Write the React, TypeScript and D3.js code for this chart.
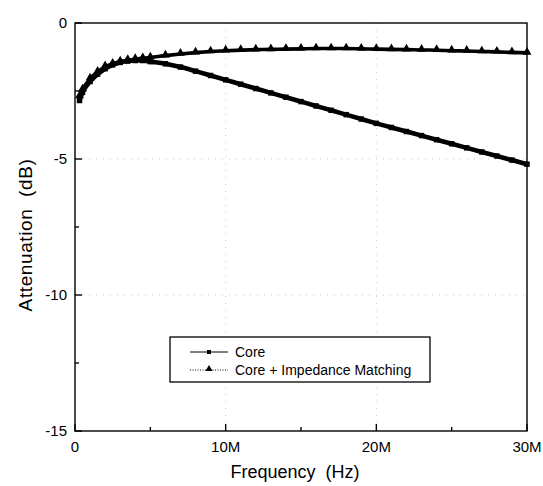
import React from "react";
import * as d3 from "d3";

const freqMHz = [0.3, 0.5, 1, 1.5, 2, 2.5, 3, 3.5, 4, 4.5, 5, 6, 7, 8, 9, 10, 11, 12, 13, 14, 15, 16, 17, 18, 19, 20, 21, 22, 23, 24, 25, 26, 27, 28, 29, 30];
const coreDb = [-2.85, -2.55, -2.15, -1.88, -1.68, -1.54, -1.45, -1.4, -1.38, -1.38, -1.42, -1.5, -1.62, -1.77, -1.93, -2.09, -2.25, -2.41, -2.57, -2.73, -2.89, -3.05, -3.21, -3.37, -3.53, -3.69, -3.84, -3.99, -4.14, -4.29, -4.44, -4.59, -4.74, -4.89, -5.04, -5.19];
const matchedDb = [-2.7, -2.45, -2.05, -1.8, -1.6, -1.5, -1.42, -1.37, -1.33, -1.3, -1.27, -1.2, -1.14, -1.09, -1.05, -1.02, -1.0, -0.98, -0.97, -0.96, -0.95, -0.94, -0.94, -0.94, -0.95, -0.96, -0.97, -0.98, -0.99, -1.0, -1.02, -1.03, -1.05, -1.06, -1.08, -1.1];

const xMajorTicks = [0, 10, 20, 30];
const xMinorTicks = [5, 15, 25];
const xTickLabels = ["0", "10M", "20M", "30M"];
const yMajorTicks = [0, -5, -10, -15];
const yMinorTicks = [-2.5, -7.5, -12.5];
const seriesNames = ["Core", "Core + Impedance Matching"];
const xTitle = "Frequency  (Hz)";
const yTitle = "Attenuation  (dB)";

const W = 543;
const H = 486;
const L = 75, R = 527, T = 23, B = 431;
const FONT = "Arial, 'Liberation Sans', Helvetica, sans-serif";

export default function App() {
  const x = d3.scaleLinear().domain([0, 30]).range([L, R]);
  const y = d3.scaleLinear().domain([-15, 0]).range([B, T]);

  const coreData = freqMHz.map((f, i) => [f, coreDb[i]] as [number, number]);
  const matchData = freqMHz.map((f, i) => [f, matchedDb[i]] as [number, number]);

  const line = d3
    .line<[number, number]>()
    .x((d) => x(d[0]))
    .y((d) => y(d[1]))
    .curve(d3.curveMonotoneX);

  const sq = d3.symbol().type(d3.symbolSquare).size(30)()!;
  const tri = d3.symbol().type(d3.symbolTriangle).size(34)()!;
  const triLeg = d3.symbol().type(d3.symbolTriangle).size(22)()!;
  const sqLeg = d3.symbol().type(d3.symbolSquare).size(16)()!;

  const legX = 170, legY = 337, legW = 260, legH = 45;

  return (
    <svg
      width={W}
      height={H}
      style={{ position: "absolute", left: 0, top: 0, background: "#fff" }}
      fontFamily={FONT}
    >
      <rect x={0} y={0} width={W} height={H} fill="#fff" />
      {/* faint dotted grid */}
      <g stroke="#bbb" strokeWidth={1} strokeDasharray="1,6" opacity={0.8}>
        {[10, 20].map((t) => (
          <line key={"gx" + t} x1={x(t)} x2={x(t)} y1={T} y2={B} />
        ))}
        {[-5, -10].map((t) => (
          <line key={"gy" + t} x1={L} x2={R} y1={y(t)} y2={y(t)} />
        ))}
      </g>

      {/* series: matched (triangles, dotted) */}
      <path d={line(matchData)!} fill="none" stroke="#000" strokeWidth={3.6} />
      {matchData.map((d, i) => (
        <path key={"t" + i} d={tri} transform={`translate(${x(d[0])},${y(d[1]) - 0.8})`} fill="#000" />
      ))}
      {/* series: core (squares, solid) */}
      <path d={line(coreData)!} fill="none" stroke="#000" strokeWidth={4.6} />
      {coreData.map((d, i) => (
        <path key={"s" + i} d={sq} transform={`translate(${x(d[0])},${y(d[1])})`} fill="#000" />
      ))}

      {/* frame */}
      <rect x={L} y={T} width={R - L} height={B - T} fill="none" stroke="#000" strokeWidth={1.4} />

      {/* ticks */}
      <g stroke="#000" strokeWidth={1.4}>
        {xMajorTicks.map((t) => (
          <line key={"xt" + t} x1={x(t)} x2={x(t)} y1={B} y2={B - 7} />
        ))}
        {xMinorTicks.map((t) => (
          <line key={"xm" + t} x1={x(t)} x2={x(t)} y1={B} y2={B - 4} />
        ))}
        {yMajorTicks.map((t) => (
          <line key={"yt" + t} x1={L} x2={L + 7} y1={y(t)} y2={y(t)} />
        ))}
        {yMinorTicks.map((t) => (
          <line key={"ym" + t} x1={L} x2={L + 4} y1={y(t)} y2={y(t)} />
        ))}
      </g>
      <g fontSize={15} fill="#000">
        {xMajorTicks.map((t, i) => (
          <text key={"xl" + t} x={x(t)} y={B + 21} textAnchor="middle">
            {xTickLabels[i]}
          </text>
        ))}
        {yMajorTicks.map((t) => (
          <text key={"yl" + t} x={L - 8} y={y(t) + 5} textAnchor="end">
            {t === 0 ? "0" : String(t)}
          </text>
        ))}
      </g>

      {/* axis titles */}
      <text x={(L + R) / 2 - 6} y={478} textAnchor="middle" fontSize={18} fill="#000" style={{ whiteSpace: "pre" }}>
        {xTitle}
      </text>
      <text
        transform={`translate(32,${(T + B) / 2 + 8}) rotate(-90)`}
        textAnchor="middle"
        fontSize={19}
        letterSpacing={0.6}
        fill="#000"
        style={{ whiteSpace: "pre" }}
      >
        {yTitle}
      </text>

      {/* legend */}
      <rect x={legX} y={legY} width={legW} height={legH} fill="#fff" stroke="#000" strokeWidth={1.3} />
      <line x1={legX + 20} x2={legX + 58} y1={legY + 15} y2={legY + 15} stroke="#000" strokeWidth={1} />
      <path d={sqLeg} transform={`translate(${legX + 39},${legY + 15})`} fill="#000" />
      <text x={legX + 65} y={legY + 20} fontSize={14} fill="#000">
        {seriesNames[0]}
      </text>
      <line x1={legX + 20} x2={legX + 58} y1={legY + 33} y2={legY + 33} stroke="#000" strokeWidth={1} strokeDasharray="1,1.5" />
      <path d={triLeg} transform={`translate(${legX + 39},${legY + 32})`} fill="#000" />
      <text x={legX + 65} y={legY + 38} fontSize={14} fill="#000">
        {seriesNames[1]}
      </text>
    </svg>
  );
}
